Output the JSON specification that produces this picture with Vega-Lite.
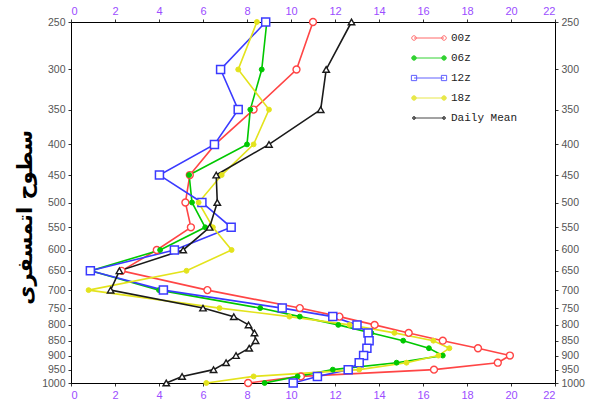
{
  "$schema": "https://vega.github.io/schema/vega-lite/v6.json",
  "width": 484,
  "height": 361,
  "autosize": {"type": "none"},
  "padding": {"left": 71, "top": 22, "right": 35, "bottom": 19},
  "background": "white",
  "config": {
    "view": {"stroke": "black", "strokeWidth": 1},
    "axis": {
      "grid": false,
      "domainColor": "black",
      "domainWidth": 1,
      "tickColor": "#333",
      "tickSize": 3,
      "labelFont": "Liberation Sans",
      "labelFontSize": 10.5,
      "labelPadding": 3
    }
  },
  "data": {
    "values": [
      {"s": "00z", "p": 250, "v": 11.0}, {"s": "00z", "p": 300, "v": 10.25}, {"s": "00z", "p": 350, "v": 8.3}, {"s": "00z", "p": 400, "v": 6.55}, {"s": "00z", "p": 450, "v": 5.4}, {"s": "00z", "p": 500, "v": 5.2}, {"s": "00z", "p": 550, "v": 5.45}, {"s": "00z", "p": 600, "v": 3.9}, {"s": "00z", "p": 650, "v": 2.3}, {"s": "00z", "p": 700, "v": 6.2}, {"s": "00z", "p": 750, "v": 10.4}, {"s": "00z", "p": 775, "v": 12.2}, {"s": "00z", "p": 800, "v": 13.8}, {"s": "00z", "p": 825, "v": 15.35}, {"s": "00z", "p": 850, "v": 16.9}, {"s": "00z", "p": 875, "v": 18.5}, {"s": "00z", "p": 900, "v": 19.95}, {"s": "00z", "p": 925, "v": 19.4}, {"s": "00z", "p": 950, "v": 16.5}, {"s": "00z", "p": 975, "v": 10.45}, {"s": "00z", "p": 1000, "v": 8.05},
      {"s": "06z", "p": 250, "v": 8.9}, {"s": "06z", "p": 300, "v": 8.67}, {"s": "06z", "p": 350, "v": 8.15}, {"s": "06z", "p": 400, "v": 8.0}, {"s": "06z", "p": 450, "v": 5.37}, {"s": "06z", "p": 500, "v": 5.5}, {"s": "06z", "p": 550, "v": 6.1}, {"s": "06z", "p": 600, "v": 4.05}, {"s": "06z", "p": 650, "v": 0.9}, {"s": "06z", "p": 700, "v": 4.0}, {"s": "06z", "p": 750, "v": 8.6}, {"s": "06z", "p": 775, "v": 10.4}, {"s": "06z", "p": 800, "v": 12.15}, {"s": "06z", "p": 825, "v": 13.65}, {"s": "06z", "p": 850, "v": 15.1}, {"s": "06z", "p": 875, "v": 16.27}, {"s": "06z", "p": 900, "v": 16.9}, {"s": "06z", "p": 925, "v": 14.8}, {"s": "06z", "p": 950, "v": 11.9}, {"s": "06z", "p": 975, "v": 10.3}, {"s": "06z", "p": 1000, "v": 8.8},
      {"s": "12z", "p": 250, "v": 8.85}, {"s": "12z", "p": 300, "v": 6.8}, {"s": "12z", "p": 350, "v": 7.6}, {"s": "12z", "p": 400, "v": 6.52}, {"s": "12z", "p": 450, "v": 4.02}, {"s": "12z", "p": 500, "v": 5.95}, {"s": "12z", "p": 550, "v": 7.28}, {"s": "12z", "p": 600, "v": 4.7}, {"s": "12z", "p": 650, "v": 0.88}, {"s": "12z", "p": 700, "v": 4.2}, {"s": "12z", "p": 750, "v": 9.6}, {"s": "12z", "p": 775, "v": 11.9}, {"s": "12z", "p": 800, "v": 13.0}, {"s": "12z", "p": 825, "v": 13.5}, {"s": "12z", "p": 850, "v": 13.55}, {"s": "12z", "p": 875, "v": 13.45}, {"s": "12z", "p": 900, "v": 13.3}, {"s": "12z", "p": 925, "v": 13.1}, {"s": "12z", "p": 950, "v": 12.6}, {"s": "12z", "p": 975, "v": 11.2}, {"s": "12z", "p": 1000, "v": 10.1},
      {"s": "18z", "p": 250, "v": 8.45}, {"s": "18z", "p": 300, "v": 7.6}, {"s": "18z", "p": 350, "v": 9.0}, {"s": "18z", "p": 400, "v": 8.3}, {"s": "18z", "p": 450, "v": 6.85}, {"s": "18z", "p": 500, "v": 5.8}, {"s": "18z", "p": 550, "v": 6.45}, {"s": "18z", "p": 600, "v": 7.3}, {"s": "18z", "p": 650, "v": 5.25}, {"s": "18z", "p": 700, "v": 0.8}, {"s": "18z", "p": 750, "v": 6.75}, {"s": "18z", "p": 775, "v": 9.93}, {"s": "18z", "p": 800, "v": 12.66}, {"s": "18z", "p": 825, "v": 14.7}, {"s": "18z", "p": 850, "v": 16.47}, {"s": "18z", "p": 875, "v": 17.2}, {"s": "18z", "p": 900, "v": 16.7}, {"s": "18z", "p": 925, "v": 15.25}, {"s": "18z", "p": 950, "v": 13.1}, {"s": "18z", "p": 975, "v": 8.3}, {"s": "18z", "p": 1000, "v": 6.15},
      {"s": "Daily Mean", "p": 250, "v": 12.75}, {"s": "Daily Mean", "p": 300, "v": 11.6}, {"s": "Daily Mean", "p": 350, "v": 11.35}, {"s": "Daily Mean", "p": 400, "v": 9.0}, {"s": "Daily Mean", "p": 450, "v": 6.6}, {"s": "Daily Mean", "p": 500, "v": 6.65}, {"s": "Daily Mean", "p": 550, "v": 6.3}, {"s": "Daily Mean", "p": 600, "v": 5.1}, {"s": "Daily Mean", "p": 650, "v": 2.2}, {"s": "Daily Mean", "p": 700, "v": 1.8}, {"s": "Daily Mean", "p": 750, "v": 6.0}, {"s": "Daily Mean", "p": 775, "v": 7.4}, {"s": "Daily Mean", "p": 800, "v": 8.07}, {"s": "Daily Mean", "p": 825, "v": 8.34}, {"s": "Daily Mean", "p": 850, "v": 8.39}, {"s": "Daily Mean", "p": 875, "v": 8.1}, {"s": "Daily Mean", "p": 900, "v": 7.5}, {"s": "Daily Mean", "p": 925, "v": 7.05}, {"s": "Daily Mean", "p": 950, "v": 6.48}, {"s": "Daily Mean", "p": 975, "v": 5.05}, {"s": "Daily Mean", "p": 1000, "v": 4.33}
    ]
  },
  "layer": [
    {
      "mark": {"type": "line", "strokeWidth": 1.6},
      "encoding": {
        "x": {
          "field": "v", "type": "quantitative",
          "scale": {"domain": [0, 22], "nice": false, "zero": false},
          "axis": {"orient": "bottom", "title": null, "values": [0, 2, 4, 6, 8, 10, 12, 14, 16, 18, 20, 22], "labelColor": "#9b4dff", "labelFontSize": 11}
        },
        "y": {
          "field": "p", "type": "quantitative",
          "scale": {"type": "log", "domain": [250, 1000], "reverse": true, "nice": false},
          "axis": {
            "orient": "left",
            "values": [250, 300, 350, 400, 450, 500, 550, 600, 650, 700, 750, 800, 850, 900, 950, 1000],
            "format": "d",
            "labelColor": "#555",
            "title": "سطوح اتمسفری",
            "titleFont": "DejaVu Sans",
            "titleFontSize": 21,
            "titleFontWeight": "bold",
            "titleColor": "black",
            "titlePadding": 6,
            "titleY": 195
          }
        },
        "color": {
          "field": "s", "type": "nominal",
          "scale": {"domain": ["00z", "06z", "12z", "18z", "Daily Mean"], "range": ["#ff4545", "#00c800", "#3a3aff", "#e3e31c", "#1a1a1a"]},
          "legend": {
            "orient": "none",
            "legendX": 350,
            "legendY": 8,
            "title": null,
            "padding": 0,
            "symbolType": "M-2,0H2",
            "symbolSize": 225,
            "symbolStrokeWidth": 1,
            "symbolOpacity": 0.8,
            "labelFont": "Liberation Mono",
            "labelFontSize": 11,
            "labelColor": "#222",
            "labelOffset": 14,
            "rowPadding": 7,
            "encode": {
              "symbols": {
                "update": {
                  "shape": {"signal": "datum.value === '12z' ? 'M-2,0H2M-2.35,-0.35H-1.65V0.35H-2.35ZM1.65,-0.35H2.35V0.35H1.65Z' : datum.value === 'Daily Mean' ? 'M-2,0H2M-1.8,0A0.2,0.2 0 1,1 -2.2,0A0.2,0.2 0 1,1 -1.8,0ZM2.2,0A0.2,0.2 0 1,1 1.8,0A0.2,0.2 0 1,1 2.2,0Z' : 'M-2,0H2M-1.7,0A0.3,0.3 0 1,1 -2.3,0A0.3,0.3 0 1,1 -1.7,0ZM2.3,0A0.3,0.3 0 1,1 1.7,0A0.3,0.3 0 1,1 2.3,0Z'"},
                  "fill": {"signal": "datum.value === '06z' ? '#00c800' : datum.value === '18z' ? '#e3e31c' : datum.value === 'Daily Mean' ? '#444' : 'white'"}
                }
              }
            }
          }
        },
        "order": {"field": "p", "type": "quantitative"}
      }
    },
    {
      "transform": [{"filter": "datum.s === '00z'"}],
      "mark": {"type": "point", "shape": "circle", "filled": false, "fill": "white", "stroke": "#ff4545", "strokeWidth": 1.4, "size": 48, "opacity": 1},
      "encoding": {
        "x": {"field": "v", "type": "quantitative", "axis": {"orient": "top", "title": null, "values": [0, 2, 4, 6, 8, 10, 12, 14, 16, 18, 20, 22], "labelColor": "#9b4dff", "labelFontSize": 11}},
        "y": {"field": "p", "type": "quantitative", "axis": {"orient": "right", "title": null, "values": [250, 300, 350, 400, 450, 500, 550, 600, 650, 700, 750, 800, 850, 900, 950, 1000], "format": "d", "labelColor": "#555"}}
      }
    },
    {
      "transform": [{"filter": "datum.s === '06z'"}],
      "mark": {"type": "point", "shape": "circle", "filled": true, "fill": "#00c800", "stroke": "#00c800", "strokeWidth": 1, "size": 24, "opacity": 1},
      "encoding": {
        "x": {"field": "v", "type": "quantitative", "axis": null},
        "y": {"field": "p", "type": "quantitative", "axis": null}
      }
    },
    {
      "transform": [{"filter": "datum.s === '12z'"}],
      "mark": {"type": "point", "shape": "square", "filled": false, "fill": "white", "stroke": "#3a3aff", "strokeWidth": 1.5, "size": 64, "opacity": 1},
      "encoding": {
        "x": {"field": "v", "type": "quantitative", "axis": null},
        "y": {"field": "p", "type": "quantitative", "axis": null}
      }
    },
    {
      "transform": [{"filter": "datum.s === '18z'"}],
      "mark": {"type": "point", "shape": "circle", "filled": true, "fill": "#e3e31c", "stroke": "#e3e31c", "strokeWidth": 1, "size": 24, "opacity": 1},
      "encoding": {
        "x": {"field": "v", "type": "quantitative", "axis": null},
        "y": {"field": "p", "type": "quantitative", "axis": null}
      }
    },
    {
      "transform": [{"filter": "datum.s === 'Daily Mean'"}],
      "mark": {"type": "point", "shape": "triangle-up", "filled": false, "fill": "white", "stroke": "#1a1a1a", "strokeWidth": 1.4, "size": 42, "opacity": 1},
      "encoding": {
        "x": {"field": "v", "type": "quantitative", "axis": null},
        "y": {"field": "p", "type": "quantitative", "axis": null}
      }
    }
  ],
  "resolve": {"axis": {"x": "independent", "y": "independent"}}
}
